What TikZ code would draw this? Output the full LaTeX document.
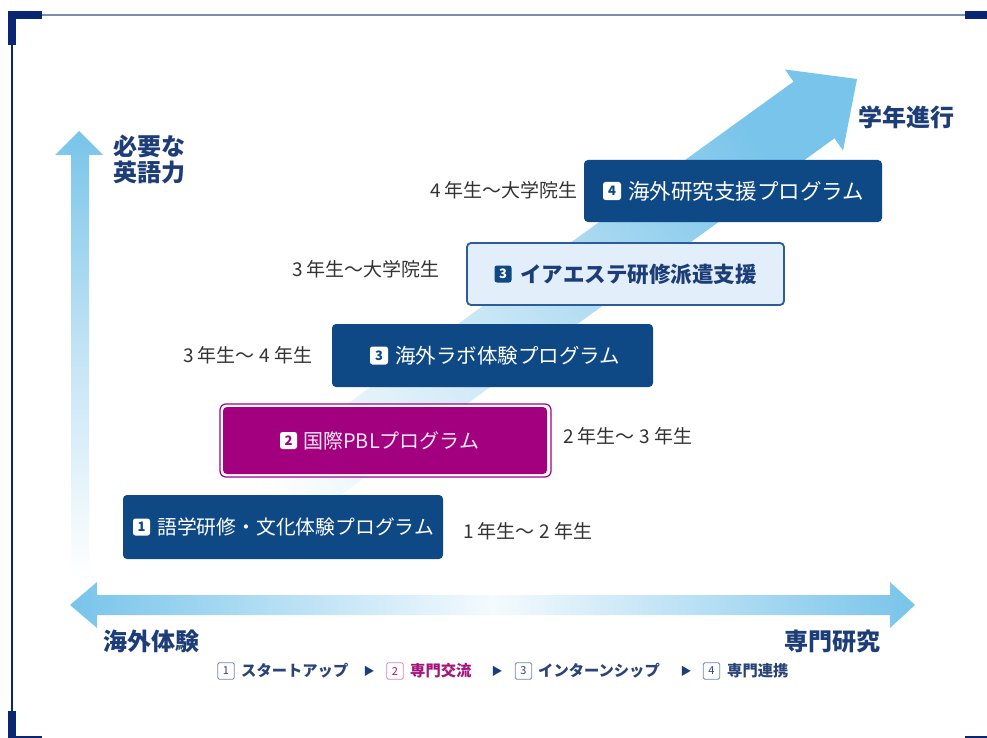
\documentclass[tikz,border=0pt]{standalone}
\usepackage{fontspec}
\setmainfont{Noto Sans CJK JP}
\definecolor{navybox}{HTML}{0E4986}
\definecolor{navytext}{HTML}{1D3D78}
\definecolor{framedark}{HTML}{0A2672}
\definecolor{frameline}{HTML}{7B8DB2}
\definecolor{magbox}{HTML}{A3007F}
\definecolor{arrowblue}{HTML}{78C4EA}
\definecolor{arrowmid}{HTML}{C4E4F5}
\definecolor{palebox}{HTML}{E2EEF9}
\definecolor{paleborder}{HTML}{2B5C9C}
\definecolor{yeartext}{HTML}{333333}
\definecolor{legendtext}{HTML}{2A4479}
\definecolor{legendbox}{HTML}{7186B0}
\definecolor{legendmag}{HTML}{A3147F}
\newcommand{\fs}[1]{\fontsize{#1}{#1}\selectfont}
\begin{document}
\begin{tikzpicture}[x=1pt,y=-1pt,
  progbox/.style={rectangle, rounded corners=4pt, inner sep=0pt},
  badge/.style={rectangle, fill=white, rounded corners=2.5pt, minimum size=18pt, inner sep=0pt, font=\bfseries\fs{13}},
  boxtext/.style={anchor=west, inner sep=0pt},
  yearlabel/.style={anchor=west, inner sep=0pt, text=yeartext, font=\fs{19}},
  axislabel/.style={inner sep=0pt, text=navytext, font=\bfseries\fs{24}},
  legsq/.style={rectangle, draw=legendbox, line width=0.9pt, rounded corners=1.5pt, minimum size=16.5pt, inner sep=0pt, font=\fs{11}},
  legtext/.style={anchor=west, inner sep=0pt, font=\bfseries\fs{15.3}},
  legarrow/.style={inner sep=0pt, text=navytext, font=\fs{11}}
]
\useasboundingbox (0,0) rectangle (987,738);
\fill[white] (0,0) rectangle (987,738);

% frame
\draw[frameline, line width=2.2pt] (42,15) -- (965,15);
\draw[framedark, line width=1.5pt] (12,45) -- (12,711);
\fill[framedark] (8,11) rectangle (16,45);
\fill[framedark] (8,11) rectangle (42,19);
\fill[framedark] (965,11) rectangle (987,19);
\fill[framedark] (8,711) rectangle (16,738);
\fill[framedark] (8,736) rectangle (42,738);
\fill[framedark] (965,736) rectangle (987,738);

% diagonal arrow (progress)
\shade[top color=arrowblue, bottom color=white, middle color=arrowmid, shading angle=-54]
  (177.9,526.2) -- (793.5,81.7) -- (785,69.5) -- (857,79) -- (843,150.5) -- (834.5,138.3) -- (218.9,583.0) -- cycle;

% vertical arrow
\shade[top color=arrowblue, bottom color=white, middle color=arrowmid]
  (71,578) -- (71,155) -- (55,155) -- (79,131) -- (103,155) -- (89,155) -- (89,578) -- cycle;

% horizontal arrow
\shade[left color=arrowblue, right color=arrowblue, middle color=white!92!arrowblue]
  (70,605) -- (97,582) -- (97,595) -- (890,595) -- (890,582) -- (915,605) -- (890,628) -- (890,615) -- (97,615) -- (97,628) -- cycle;

% axis labels
\node[axislabel, anchor=west] (need1) at (113,146) {必要な};
\node[axislabel, anchor=west] (need2) at (113,172) {英語力};
\node[axislabel, anchor=west] (grade) at (858,117) {学年進行};
\node[axislabel, anchor=west] (abroad) at (103,641) {海外体験};
\node[axislabel, anchor=east] (special) at (881,641) {専門研究};

% box 4
\node[progbox, fill=navybox, minimum width=298pt, minimum height=62pt] (b4) at (733,191) {};
\node[badge, text=navybox] (b4n) at (612,191) {4};
\node[boxtext, text=white, font=\fs{21.5}] (b4t) at (628,191) {海外研究支援プログラム};
\node[yearlabel] (y4) at (430,190) {4 年生〜大学院生};

% box 3b
\node[progbox, fill=palebox, draw=paleborder, line width=1.8pt, minimum width=317pt, minimum height=62pt] (b3b) at (625.5,274) {};
\node[badge, fill=navybox, text=white, minimum size=17pt] (b3bn) at (503,274) {3};
\node[boxtext, text=navytext, font=\bfseries\fs{21.5}] (b3bt) at (520,274) {イアエステ研修派遣支援};
\node[yearlabel] (y3b) at (292,269) {3 年生〜大学院生};

% box 3
\node[progbox, fill=navybox, minimum width=321pt, minimum height=63pt] (b3) at (492.5,355.5) {};
\node[badge, text=navybox] (b3n) at (379,355.5) {3};
\node[boxtext, text=white, font=\fs{20.5}] (b3t) at (395,355.5) {海外ラボ体験プログラム};
\node[yearlabel] (y3) at (183,355) {3 年生〜 4 年生};

% box 2
\node[progbox, rounded corners=6pt, fill=white, draw=magbox, line width=1.2pt, minimum width=331pt, minimum height=73pt] (b2o) at (385.5,440.5) {};
\node[progbox, fill=magbox, minimum width=324pt, minimum height=67pt] (b2) at (385,440.5) {};
\node[badge, text=magbox, minimum size=17pt] (b2n) at (288.5,440.5) {2};
\node[boxtext, text=white!92!magbox, font=\fs{20}] (b2t) at (303,440.5) {国際PBLプログラム};
\node[yearlabel] (y2) at (563,436) {2 年生〜 3 年生};

% box 1
\node[progbox, fill=navybox, minimum width=320pt, minimum height=64pt] (b1) at (283,527) {};
\node[badge, text=navybox, minimum size=17pt] (b1n) at (141.5,527) {1};
\node[boxtext, text=white, font=\fs{19.8}] (b1t) at (157,527) {語学研修・文化体験プログラム};
\node[yearlabel] (y1) at (463,531) {1 年生〜 2 年生};

% legend
\node[legsq, text=legendtext] (l1) at (226,671) {1};
\node[legtext, text=legendtext] (l1t) at (241,671) {スタートアップ};
\node[legarrow] (a1) at (369,671) {▶};
\node[legsq, draw=legendmag!50, text=legendmag] (l2) at (395,671) {2};
\node[legtext, text=legendmag] (l2t) at (410,671) {専門交流};
\node[legarrow] (a2) at (497,671) {▶};
\node[legsq, text=legendtext] (l3) at (523.5,671) {3};
\node[legtext, text=legendtext] (l3t) at (538,671) {インターンシップ};
\node[legarrow] (a3) at (686,671) {▶};
\node[legsq, text=legendtext] (l4) at (711.5,671) {4};
\node[legtext, text=legendtext] (l4t) at (727,671) {専門連携};
\end{tikzpicture}
\end{document}
